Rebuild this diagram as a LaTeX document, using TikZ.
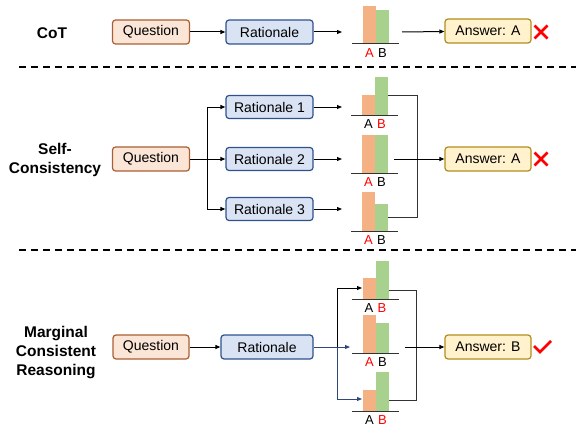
\documentclass[tikz,border=0pt]{standalone}
\usepackage{fontspec}
\setmainfont{Liberation Sans}
\usetikzlibrary{arrows.meta}
\definecolor{qfill}{RGB}{251,229,214}
\definecolor{qdraw}{RGB}{170,95,50}
\definecolor{rfill}{RGB}{218,227,243}
\definecolor{rdraw}{RGB}{47,82,143}
\definecolor{afill}{RGB}{255,242,204}
\definecolor{adraw}{RGB}{180,140,30}
\definecolor{barA}{RGB}{244,177,131}
\definecolor{barB}{RGB}{169,209,142}
\definecolor{blueline}{RGB}{47,72,120}
\definecolor{brkgray}{RGB}{50,50,50}
\newcommand{\bargrp}[7]{%
  \fill[barA] (#1,#3) rectangle (#1+13,#2);
  \fill[barB] (#1+13,#4) rectangle (#1+26,#2);
  \draw[line width=1pt, draw=brkgray] (#1-11,#2) -- (#1+36,#2);
  \node[lbl,text=#5] (#7a) at (#1+6.5,#2+9) {A};
  \node[lbl,text=#6] (#7b) at (#1+19.5,#2+9) {B};
}
\begin{document}
\begin{tikzpicture}[x=1pt,y=-1pt,
  >={Triangle[length=5pt,width=4pt]},
  box/.style={rounded corners=3pt, line width=1.2pt, minimum height=24pt, inner sep=0pt, font=\fontsize{14}{16}\selectfont},
  qbox/.style={box, draw=qdraw, fill=qfill, minimum width=77pt},
  rbox/.style={box, draw=rdraw, fill=rfill},
  abox/.style={box, draw=adraw, fill=afill, minimum width=86pt},
  arr/.style={->, line width=1pt},
  brk/.style={line width=1pt, draw=brkgray},
  lbl/.style={font=\fontsize{13}{15}\selectfont, inner sep=0pt},
  title/.style={font=\bfseries\fontsize{15.5}{19}\selectfont, align=center, inner sep=0pt},
  sep/.style={line width=2pt, dash pattern=on 7pt off 5pt},
  xmark/.style={red, line width=2.8pt},
  cmark/.style={red, line width=2.6pt, line join=miter}]
\useasboundingbox (0,0) rectangle (576,428);

% separators
\draw[sep] (19,67) -- (576,67);
\draw[sep] (19,250) -- (576,250);

% ---------- CoT ----------
\node[title] (t1) at (52,33) {CoT};
\node[qbox] (q1) at (151,32) {Question};
\node[rbox, minimum width=87pt] (r1) at (269.5,32) {Rationale};
\node[abox] (a1) at (488,31) {Answer: A};
\coordinate (c1in) at (342,32);
\coordinate (c1out) at (402,32);
\bargrp{363}{44}{6}{10}{red}{black}{g1}
\draw[arr] (q1) -- (r1);
\draw[arr] (r1) -- (c1in);
\draw[arr] (c1out) -- (a1);
\coordinate (x1) at (541,32);
\draw[xmark] ([shift={(-6.5,-6.5)}]x1) -- ([shift={(6.5,6.5)}]x1);
\draw[xmark] ([shift={(-6.5,6.5)}]x1) -- ([shift={(6.5,-6.5)}]x1);

% ---------- Self-Consistency ----------
\node[title] (t2) at (55,160) {Self-\\Consistency};
\node[qbox] (q2) at (151,159) {Question};
\coordinate (sp2) at (207,159);
\node[rbox, minimum width=87pt, minimum height=23pt] (r21) at (269.5,107) {Rationale 1};
\node[rbox, minimum width=87pt, minimum height=23pt] (r22) at (269.5,159) {Rationale 2};
\node[rbox, minimum width=87pt, minimum height=23pt] (r23) at (269.5,209) {Rationale 3};
\draw[line width=1pt] (q2.east) -- (sp2);
\draw[arr] (sp2) |- (r21);
\draw[arr] (sp2) -- (r22);
\draw[arr] (sp2) |- (r23);
\coordinate (c21in) at (342,107);
\coordinate (c22in) at (342,159);
\coordinate (c23in) at (342,209);
\draw[arr] (r21) -- (c21in);
\draw[arr] (r22) -- (c22in);
\draw[arr] (r23) -- (c23in);
\bargrp{362}{115}{95}{77}{black}{red}{g21}
\bargrp{362}{173}{135}{135}{red}{black}{g22}
\bargrp{362}{231}{192}{204}{red}{black}{g23}
\coordinate (g21out) at (388,96);
\coordinate (g23out) at (388,217);
\coordinate (j2) at (417,217);
\draw[brk] (g21out) -| (j2) -- (g23out);
\node[abox] (a2) at (488,159) {Answer: A};
\coordinate (g22out) at (394,159);
\draw[arr] (g22out) -- (a2);
\coordinate (x2) at (541,159);
\draw[xmark] ([shift={(-6.5,-6.5)}]x2) -- ([shift={(6.5,6.5)}]x2);
\draw[xmark] ([shift={(-6.5,6.5)}]x2) -- ([shift={(6.5,-6.5)}]x2);

% ---------- Marginal Consistent Reasoning ----------
\node[title] (t3) at (56,353) {Marginal\\Consistent\\Reasoning};
\node[qbox, minimum width=76pt] (q3) at (151,347) {Question};
\node[rbox, minimum width=92pt] (r3) at (267,347) {Rationale};
\draw[arr] (q3) -- (r3);
\coordinate (sp3) at (337,347);
\coordinate (c31in) at (362,288);
\coordinate (c32in) at (350,347);
\coordinate (c33in) at (362,399);
\draw[arr, blueline] (r3) -- (c32in);
\draw[arr] (sp3) |- (c31in);
\draw[arr, blueline] (sp3) |- (c33in);
\bargrp{362.5}{299}{278}{261}{black}{red}{g31}
\bargrp{363}{353}{315}{323}{red}{black}{g32}
\bargrp{363}{411}{390}{372}{black}{red}{g33}
\coordinate (g31out) at (388.5,290);
\coordinate (g33out) at (389,400);
\coordinate (j3) at (416,400);
\draw[brk] (g31out) -| (j3) -- (g33out);
\node[abox] (a3) at (488,347) {Answer: B};
\coordinate (g32out) at (405,347);
\draw[arr] (g32out) -- (a3);
\coordinate (ck) at (534,346);
\draw[cmark] (ck) -- ++(6,6) -- ++(11,-11);
\end{tikzpicture}
\end{document}
